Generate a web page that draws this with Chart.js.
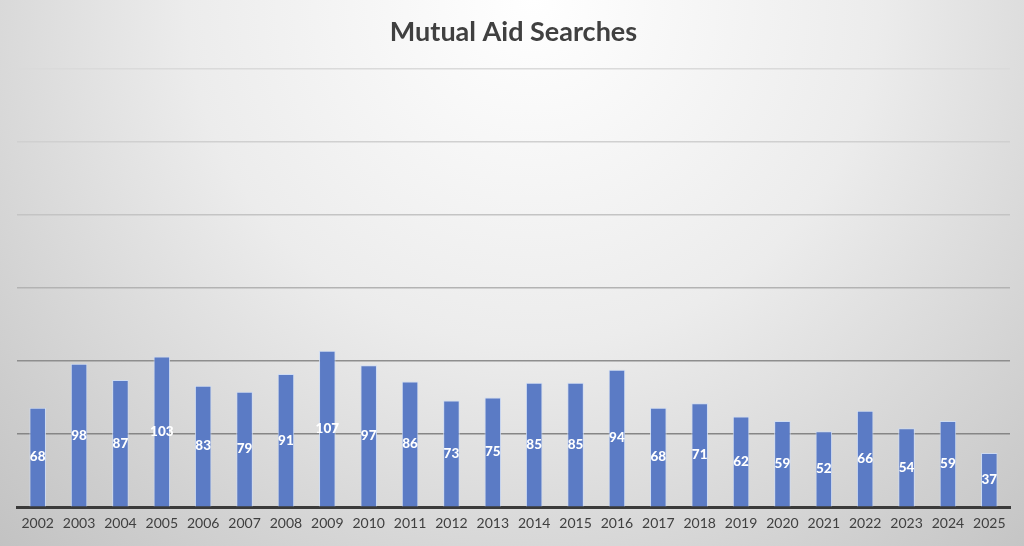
<!DOCTYPE html>
<html>
<head>
<meta charset="utf-8">
<script src="https://cdn.jsdelivr.net/npm/chart.js@4.4.1/dist/chart.umd.min.js"></script>
<style>
html,body{margin:0;padding:0;}
body{
width:1024px;height:546px;overflow:hidden;
background:radial-gradient(ellipse 75% 140% at 52% 0%, #ffffff 0%, #ececec 45%, #cdcdcd 85%, #c2c2c2 100%);
}
#wrap{width:1024px;height:546px;position:relative;}
</style>
</head>
<body>
<div id="wrap"><canvas id="chart"></canvas></div>
<script>

const years = ["2002","2003","2004","2005","2006","2007","2008","2009","2010","2011","2012","2013","2014","2015","2016","2017","2018","2019","2020","2021","2022","2023","2024","2025"]
const searches = [68,98,87,103,83,79,91,107,97,86,73,75,85,85,94,68,71,62,59,52,66,54,59,37]
const yTicks = [0,50,100,150,200,250,300]

// grid gets darker toward the bottom, like the original
const gridColors = {50:"#868686",100:"#8e8e8e",150:"#b3b3b3",200:"#c4c4c4",250:"#d0d0d0",300:"#dadada"}

const barLabels = {
id:"barLabels",
afterDatasetsDraw(chart){
const ctx = chart.ctx
const meta = chart.getDatasetMeta(0)
ctx.save()
ctx.fillStyle = "#ffffff"
ctx.font = "900 13.5px Lato"
ctx.textAlign = "center"
ctx.textBaseline = "middle"
meta.data.forEach((bar, i) => {
const mid = (bar.y + bar.base) / 2
ctx.fillText(searches[i], bar.x, mid)
})
ctx.restore()
}
}

const ctx = document.getElementById("chart").getContext("2d")

new Chart(ctx, {
type: "bar",
data: {
labels: years,
datasets: [{
label: "Searches",
data: searches,
backgroundColor: "#5b7bc5",
borderColor: "rgba(205,220,245,0.9)",
borderWidth: 1,
barPercentage: 0.4,
categoryPercentage: 1
}]
},
plugins: [barLabels],
options: {
responsive: true,
maintainAspectRatio: false,
animation: false,
layout: {
padding: {left: 17, right: 14, top: 0, bottom: 6}
},
plugins: {
legend: {display: false},
tooltip: {enabled: false},
title: {
display: true,
text: "Mutual Aid Searches",
color: "#404040",
font: {family: "Lato", size: 27, weight: "bold"},
padding: {top: 16, bottom: 20}
}
},
scales: {
x: {
grid: {display: false, drawTicks: false},
border: {display: true, color: "#3a3a3a", width: 3},
ticks: {
color: "#404040",
padding: 8,
font: {family: "Lato", size: 14}
}
},
y: {
min: 0,
max: 300,
afterBuildTicks: axis => { axis.ticks = yTicks.map(v => ({value: v})) },
ticks: {display: false},
border: {display: false},
grid: {
drawTicks: false,
lineWidth: 1.5,
color: c => c.tick && c.tick.value === 0 ? "rgba(0,0,0,0)" : gridColors[c.tick.value]
}
}
}
}
})

</script>
</body>
</html>
